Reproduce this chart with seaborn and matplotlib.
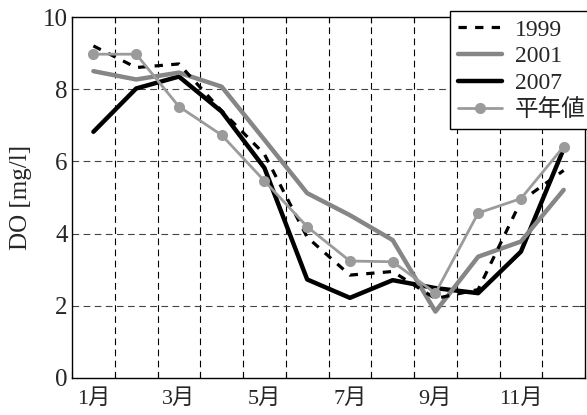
import matplotlib
matplotlib.use("Agg")
import matplotlib.pyplot as plt
import seaborn as sns
import pandas as pd

# Monthly dissolved-oxygen values (mg/l)
months = list(range(1, 13))
do_1999 = [9.2, 8.6, 8.7, 7.4, 6.2, 3.9, 2.85, 2.95, 2.2, 2.45, 4.9, 5.75]
do_2001 = [8.5, 8.27, 8.46, 8.07, 6.6, 5.12, 4.51, 3.82, 1.84, 3.36, 3.78, 5.21]
do_2007 = [6.82, 8.02, 8.35, 7.38, 5.82, 2.73, 2.22, 2.71, 2.49, 2.35, 3.5, 6.35]
do_normal = [8.97, 8.97, 7.52, 6.73, 5.46, 4.19, 3.24, 3.22, 2.35, 4.57, 4.97, 6.41]
month_labels = ["1月", "3月", "5月", "7月", "9月", "11月"]
y_ticks = [0, 2, 4, 6, 8, 10]

sns.set_style("white")
plt.rcParams["font.family"] = ["Liberation Serif", "Noto Sans CJK JP"]

df = pd.DataFrame({
    "pos": [m - 0.5 for m in months],
    "1999": do_1999,
    "2001": do_2001,
    "2007": do_2007,
    "平年値": do_normal,
})

fig = plt.figure(figsize=(5.87, 4.15), dpi=100)
ax = fig.add_axes([0.1227, 0.0892, 0.874, 0.8698])

grid_kw = dict(color="black", linewidth=0.8, linestyle=(0, (6, 4)))
for gx in range(1, 12):
    ax.axvline(gx, zorder=1, **grid_kw)
for gy in y_ticks[1:-1]:
    ax.axhline(gy, zorder=1, **dict(grid_kw, color="#444444"))

sns.lineplot(data=df, x="pos", y="2007", ax=ax, color="black", linewidth=3.2,
             label="2007", zorder=3)
sns.lineplot(data=df, x="pos", y="2001", ax=ax, color="#868686", linewidth=3.2,
             label="2001", zorder=3.5)
sns.lineplot(data=df, x="pos", y="1999", ax=ax, color="black", linewidth=2.3,
             linestyle=(0, (2.6, 2.6)), label="1999", zorder=4)
sns.lineplot(data=df, x="pos", y="平年値", ax=ax, color="#9b9b9b", linewidth=2.0,
             marker="o", markersize=8, markeredgewidth=0, label="平年値", zorder=5)

ax.set_xlim(0, 12)
ax.set_ylim(0, 10)
ax.set_xticks(range(13))
ax.set_xticklabels([])
ax.set_xticks([0.5, 2.5, 4.5, 6.5, 8.5, 10.5], labels=month_labels, minor=True)
ax.set_yticks(y_ticks)
ax.tick_params(axis="x", which="major", direction="in", length=4, width=0.8,
               top=True, bottom=True)
ax.tick_params(axis="x", which="minor", length=0, pad=8, labelsize=16)
ax.tick_params(axis="y", direction="in", length=4, width=0.8, labelsize=18, pad=3,
               right=True)
ax.set_xlabel("")
ax.set_ylabel("DO [mg/l]", fontsize=18, labelpad=8)
for s in ax.spines.values():
    s.set_color("black")
    s.set_linewidth(1.0)

handles, labels = ax.get_legend_handles_labels()
order = [labels.index(k) for k in ["1999", "2001", "2007", "平年値"]]
leg = ax.legend([handles[i] for i in order], [labels[i] for i in order],
                loc="upper right", bbox_to_anchor=(1.012, 0.974),
                bbox_transform=fig.transFigure, fontsize=17, frameon=True,
                fancybox=False, edgecolor="black", framealpha=1,
                handlelength=1.85, handletextpad=0.55, labelspacing=0.22,
                borderpad=0.35, borderaxespad=0)
leg.get_frame().set_linewidth(1.0)

fig.savefig("out.png", dpi=100)
